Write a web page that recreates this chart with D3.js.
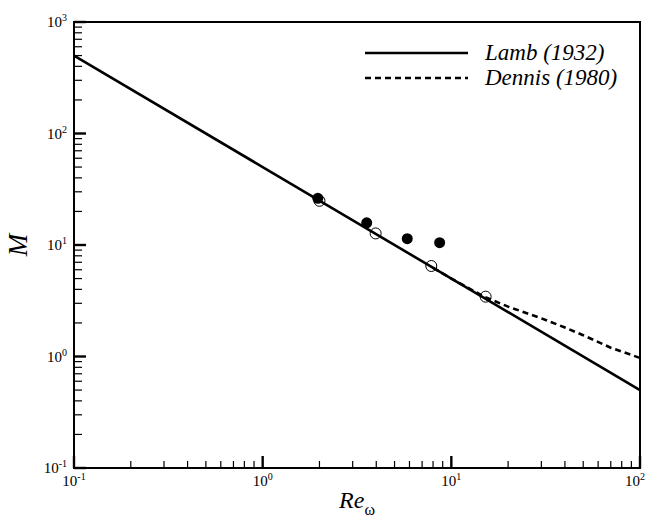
<!DOCTYPE html>
<html>
<head>
<meta charset="utf-8">
<script src="https://cdn.jsdelivr.net/npm/d3@7/dist/d3.min.js"></script>
<style>
  body { margin: 0; background: #fff; }
</style>
</head>
<body>
<div id="chart-area"></div>
<script>
// data
var lambRe = [0.1, 100];
var lambM = [500, 0.5];

var dennisRe = [8, 10, 15, 20, 30, 40, 50, 70, 100];
var dennisM = [6.25, 5.0, 3.42, 2.8, 2.2, 1.82, 1.55, 1.2, 0.97];

var filledRe = [1.96, 3.56, 5.84, 8.67];
var filledM = [26.2, 15.8, 11.4, 10.5];

var openRe = [2.0, 3.97, 7.83, 15.2];
var openM = [24.9, 12.7, 6.48, 3.44];

var xMajor = [0.1, 1, 10, 100];
var xMajorExp = ["-1", "0", "1", "2"];
var yMajor = [0.1, 1, 10, 100, 1000];
var yMajorExp = ["-1", "0", "1", "2", "3"];

var legendNames = ["Lamb (1932)", "Dennis (1980)"];

var FONT = "'Liberation Serif', 'Times New Roman', Times, serif";

var margin = { top: 22, right: 8, bottom: 53, left: 74 };
var width = 648;
var height = 521;
var charWidth = width - margin.left - margin.right;
var charHeight = height - margin.top - margin.bottom;

var svg = d3.select("#chart-area")
	.append("svg")
	.attr("width", width)
	.attr("height", height)
	.append("g")
	.attr("transform", "translate(" + margin.left + ", " + margin.top + ")");

var xScale = d3.scaleLog()
	.domain([0.1, 100])
	.range([0, charWidth]);

var yScale = d3.scaleLog()
	.domain([0.1, 1000])
	.range([charHeight, 0]);

function minors(lo, hi) {
	var out = [];
	for (var e = lo; e < hi; e++) {
		for (var k = 2; k <= 9; k++) out.push(k * Math.pow(10, e));
	}
	return out;
}

// inward ticks, bottom and left only
svg.selectAll(".xminor")
	.data(minors(-1, 2))
	.enter().append("line")
	.attr("x1", d => xScale(d)).attr("x2", d => xScale(d))
	.attr("y1", charHeight).attr("y2", charHeight - 7)
	.attr("stroke", "#000").attr("stroke-width", 1.2);

svg.selectAll(".xmajor")
	.data(xMajor)
	.enter().append("line")
	.attr("x1", d => xScale(d)).attr("x2", d => xScale(d))
	.attr("y1", charHeight).attr("y2", charHeight - 12)
	.attr("stroke", "#000").attr("stroke-width", 2.4);

svg.selectAll(".yminor")
	.data(minors(-1, 3))
	.enter().append("line")
	.attr("y1", d => yScale(d)).attr("y2", d => yScale(d))
	.attr("x1", 0).attr("x2", 8)
	.attr("stroke", "#000").attr("stroke-width", 1.2);

svg.selectAll(".ymajor")
	.data(yMajor)
	.enter().append("line")
	.attr("y1", d => yScale(d)).attr("y2", d => yScale(d))
	.attr("x1", 0).attr("x2", 12)
	.attr("stroke", "#000").attr("stroke-width", 2.4);

// frame
svg.append("rect")
	.attr("width", charWidth)
	.attr("height", charHeight)
	.attr("fill", "none")
	.attr("stroke", "#000")
	.attr("stroke-width", 2);

// tick labels (last x label nudged so it stays inside the page)
var xLab = svg.selectAll(".xlab")
	.data(xMajor)
	.enter().append("text")
	.attr("class", "xlab")
	.attr("x", d => Math.min(xScale(d), charWidth - 5))
	.attr("y", charHeight + 18)
	.attr("text-anchor", "middle")
	.attr("font-family", FONT)
	.attr("font-size", "15px");
xLab.append("tspan").text("10");
xLab.append("tspan").attr("font-size", "10px").attr("dy", -6).text((d, i) => xMajorExp[i]);

var yLab = svg.selectAll(".ylab")
	.data(yMajor)
	.enter().append("text")
	.attr("class", "ylab")
	.attr("x", -7)
	.attr("y", d => yScale(d) + 5)
	.attr("text-anchor", "end")
	.attr("font-family", FONT)
	.attr("font-size", "15px");
yLab.append("tspan").text("10");
yLab.append("tspan").attr("font-size", "10px").attr("dy", -6).text((d, i) => yMajorExp[i]);

// axis titles
svg.append("text")
	.attr("x", -charHeight / 2)
	.attr("y", -47)
	.attr("transform", "rotate(-90)")
	.attr("text-anchor", "middle")
	.attr("font-family", FONT)
	.attr("font-size", "27px")
	.attr("font-style", "italic")
	.text("M");

var xt = svg.append("text")
	.attr("x", charWidth / 2)
	.attr("y", charHeight + 40)
	.attr("text-anchor", "middle")
	.attr("font-family", FONT)
	.attr("font-size", "24px");
xt.append("tspan").attr("font-style", "italic").text("Re");
xt.append("tspan").attr("font-size", "16px").attr("dy", 7).text("\u03c9");

// lines
var line = d3.line()
	.x(d => xScale(d[0]))
	.y(d => yScale(d[1]));

svg.append("path")
	.datum(dennisRe.map((r, i) => [r, dennisM[i]]))
	.attr("d", line)
	.attr("fill", "none")
	.attr("stroke", "#000")
	.attr("stroke-width", 2.6)
	.attr("stroke-dasharray", "6,4");

svg.append("path")
	.datum(lambRe.map((r, i) => [r, lambM[i]]))
	.attr("d", line)
	.attr("fill", "none")
	.attr("stroke", "#000")
	.attr("stroke-width", 2.6);

// points
svg.selectAll(".filled")
	.data(filledRe.map((r, i) => [r, filledM[i]]))
	.enter().append("circle")
	.attr("class", "filled")
	.attr("cx", d => xScale(d[0]))
	.attr("cy", d => yScale(d[1]))
	.attr("r", 5.5)
	.attr("fill", "#000");

svg.selectAll(".open")
	.data(openRe.map((r, i) => [r, openM[i]]))
	.enter().append("circle")
	.attr("class", "open")
	.attr("cx", d => xScale(d[0]))
	.attr("cy", d => yScale(d[1]))
	.attr("r", 5.5)
	.attr("fill", "none")
	.attr("stroke", "#000")
	.attr("stroke-width", 1);

// legend
var legend = svg.selectAll(".legend")
	.data(legendNames)
	.enter().append("g")
	.attr("class", "legend")
	.attr("transform", (d, i) => "translate(291," + (31 + i * 25) + ")");

legend.append("line")
	.attr("x1", 0)
	.attr("x2", 103)
	.attr("stroke", "#000")
	.attr("stroke-width", 2.6)
	.attr("stroke-dasharray", (d, i) => i === 1 ? "6,4" : null);

legend.append("text")
	.attr("x", 120)
	.attr("y", 7)
	.attr("font-family", FONT)
	.attr("font-size", "23px")
	.attr("font-style", "italic")
	.text(d => d);
</script>
</body>
</html>
